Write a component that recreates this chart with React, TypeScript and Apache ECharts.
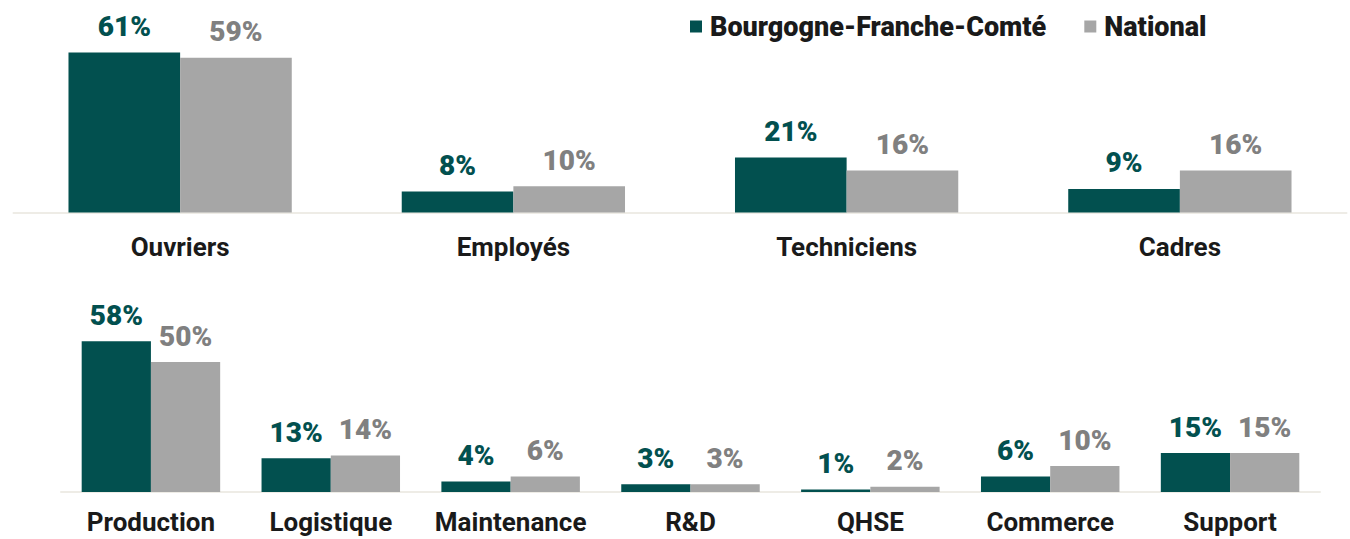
import React, { useEffect, useRef } from "react";
import * as echarts from "echarts";

const topCategories = ["Ouvriers", "Employés", "Techniciens", "Cadres"];
const topRegion = [61, 8, 21, 9];
const topNational = [59, 10, 16, 16];

const bottomCategories = ["Production", "Logistique", "Maintenance", "R&D", "QHSE", "Commerce", "Support"];
const bottomRegion = [58, 13, 4, 3, 1, 6, 15];
const bottomNational = [50, 14, 6, 3, 2, 10, 15];

const seriesNames = ["Bourgogne-Franche-Comté", "National"];

const DARK = "#02504F";
const GRAY = "#A6A6A6";
const GRAY_LABEL = "#808080";
const TEXT = "#1A1A1A";
const FONT = "Roboto";

export default function App() {
  const ref = useRef<HTMLDivElement>(null);
  useEffect(() => {
    document.body.style.margin = "0";
    const chart = echarts.init(ref.current!, null, { renderer: "svg" });
    const label = (color: string) => ({
      show: true,
      position: "top",
      distance: 12,
      formatter: (p: any) => `${p.value}%`,
      color,
      fontFamily: FONT,
      fontWeight: 900,
      fontSize: 28,
    });
    const xAxisCommon = (margin: number) => ({
      type: "category",
      axisTick: { show: false },
      axisLine: { lineStyle: { color: "#EEECE6", width: 2 } },
      axisLabel: { color: TEXT, fontFamily: FONT, fontWeight: "bold", fontSize: 26, margin, interval: 0 },
    });
    const yAxisCommon = {
      type: "value",
      min: 0,
      max: 70,
      show: false,
      splitLine: { show: false },
    };
    chart.setOption({
      animation: false,
      legend: {
        data: seriesNames,
        left: 685,
        top: 8,
        icon: "rect",
        itemWidth: 12,
        itemHeight: 12,
        itemGap: 38,
        textStyle: { color: TEXT, fontFamily: FONT, fontWeight: 900, fontSize: 27, padding: [0, 0, 0, 3] },
      },
      grid: [
        { left: 13.5, right: 3.5, top: 29, height: 183.5, outerBoundsMode: "none", containLabel: false },
        { left: 61, right: 30, top: 310, height: 182, outerBoundsMode: "none", containLabel: false },
      ],
      xAxis: [
        { ...xAxisCommon(21), gridIndex: 0, data: topCategories },
        { ...xAxisCommon(17), gridIndex: 1, data: bottomCategories },
      ],
      yAxis: [
        { ...yAxisCommon, gridIndex: 0 },
        { ...yAxisCommon, gridIndex: 1 },
      ],
      series: [
        {
          name: seriesNames[0], type: "bar", xAxisIndex: 0, yAxisIndex: 0, data: topRegion,
          itemStyle: { color: DARK }, barGap: "0%", barCategoryGap: "33%", label: label(DARK),
        },
        {
          name: seriesNames[1], type: "bar", xAxisIndex: 0, yAxisIndex: 0, data: topNational,
          itemStyle: { color: GRAY }, barGap: "0%", barCategoryGap: "33%", label: label(GRAY_LABEL),
        },
        {
          name: seriesNames[0], type: "bar", xAxisIndex: 1, yAxisIndex: 1, data: bottomRegion,
          itemStyle: { color: DARK }, barGap: "0%", barCategoryGap: "23%", label: label(DARK),
        },
        {
          name: seriesNames[1], type: "bar", xAxisIndex: 1, yAxisIndex: 1, data: bottomNational,
          itemStyle: { color: GRAY }, barGap: "0%", barCategoryGap: "23%", label: label(GRAY_LABEL),
        },
      ],
    });
    return () => chart.dispose();
  }, []);
  return <div ref={ref} style={{ width: 1350, height: 539 }} />;
}
